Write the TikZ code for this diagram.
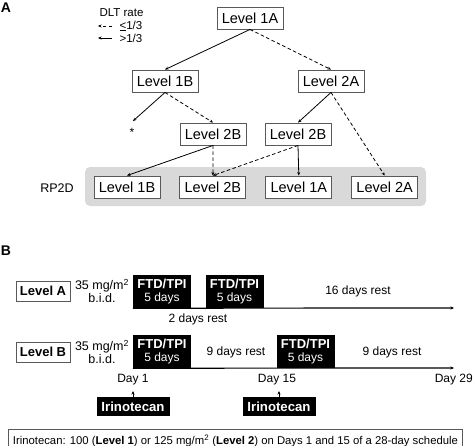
\documentclass[tikz,border=0pt]{standalone}
\usepackage{fontspec}
\setmainfont{Liberation Sans}
\usetikzlibrary{arrows.meta,positioning}

\tikzset{
  lvl/.style = {draw=black!65, line width=0.9pt, fill=white, inner sep=0pt,
                minimum width=66pt, minimum height=22pt, font=\fontsize{14.5}{16}\selectfont},
  tip/.style = {-{Stealth[length=3.5pt,width=3pt]}, line width=0.8pt},
  sure/.style = {tip},
  maybe/.style = {tip, dashed, dash pattern=on 3.5pt off 2.5pt},
  drug/.style = {fill=black, text=white, inner sep=0pt, minimum width=58pt,
                 minimum height=33pt, align=center},
  dose/.style = {align=center, font=\fontsize{12.5}{13.5}\selectfont},
  rest/.style = {font=\fontsize{12}{13}\selectfont},
  armbox/.style = {draw=black!65, line width=0.9pt, inner sep=0pt, minimum width=54pt,
                   minimum height=20pt, font=\bfseries\fontsize{13}{14}\selectfont},
  irino/.style = {fill=black, text=white, inner sep=0pt, minimum width=73pt,
                  minimum height=19pt, font=\bfseries\fontsize{13.2}{14}\selectfont},
  line/.style = {line width=1.2pt, -{Stealth[length=3.5pt,width=3pt]}}
}

\begin{document}
\begin{tikzpicture}[x=1pt, y=-1pt]
    \useasboundingbox (0,0) rectangle (474,445);

    % panel A
    \node[font=\bfseries\fontsize{14}{14}\selectfont] (labA) at (6,8) {A};

    \node[font=\fontsize{11.5}{12}\selectfont, anchor=west] (dlt) at (96,13) {DLT rate};
    \coordinate (k1) at (98,26);
    \coordinate (k2) at (112,26);
    \coordinate (k3) at (98,38);
    \coordinate (k4) at (112,38);
    \draw[maybe] (k2) -- (k1);
    \draw[sure] (k4) -- (k3);
    \node[font=\fontsize{11.5}{12}\selectfont, anchor=west] (le) at (116,26) {\underline{<}1/3};
    \node[font=\fontsize{11.5}{12}\selectfont, anchor=west] (gt) at (116,38) {>1/3};

    \node[lvl] (1A) at (250,18) {Level 1A};
    \node[lvl] (1B) at (165,81) {Level 1B};
    \node[lvl] (2A) at (331,81) {Level 2A};
    \node[lvl] (2Bl) at (213,134) {Level 2B};
    \node[lvl] (2Br) at (298,134) {Level 2B};
    \coordinate (stop) at (133,121);
    \node[font=\fontsize{12}{12}\selectfont] (star) at (132,132) {*};

    \fill[black!15, rounded corners=5pt] (85,167) rectangle (426,206);
    \node[font=\fontsize{12.5}{14}\selectfont] (rp2d) at (57,188) {RP2D};
    \node[lvl] (r1B) at (127,187) {Level 1B};
    \node[lvl] (r2B) [right=19pt of r1B] {Level 2B};
    \node[lvl] (r1A) [right=19pt of r2B] {Level 1A};
    \node[lvl] (r2A) [right=19pt of r1A] {Level 2A};

    \path
    (1A.south) edge[sure] (1B.north)
    (1A.south) edge[maybe] (2A.north)
    (1B.south) edge[sure] (stop)
    (1B.south) edge[maybe] (2Bl.north)
    (2A.south) edge[sure] (2Br.north)
    (2A.south) edge[maybe] (r2A.north)
    (2Bl.south) edge[sure] (r1B.north)
    (2Bl.south) edge[maybe] (r2B.north)
    (2Br.south) edge[maybe] (r2B.north)
    (2Br.south) edge[sure] (r1A.north)
    ;

    % panel B
    \node[font=\bfseries\fontsize{14}{14}\selectfont] (labB) at (6,251) {B};

    \node[armbox] (armA) at (43,291) {Level A};
    \node[dose] (doseA) at (102,291) {35 mg/m\textsuperscript{2}\\b.i.d.};
    \node[drug] (a1) at (162,291.5) {{\bfseries\fontsize{13}{14}\selectfont FTD/TPI}\\[1pt]{\fontsize{12}{13}\selectfont 5 days}};
    \node[drug] (a2) at (234.5,291.5) {{\bfseries\fontsize{13}{14}\selectfont FTD/TPI}\\[1pt]{\fontsize{12}{13}\selectfont 5 days}};
    \coordinate (endA) at (454,308);
    \draw[line] (a1.south west) -- (endA);
    \node[rest] (rA1) at (198,319) {2 days rest};
    \node[rest] (rA2) at (358,291) {16 days rest};

    \node[armbox] (armB) at (43,352) {Level B};
    \node[dose] (doseB) at (102,352) {35 mg/m\textsuperscript{2}\\b.i.d.};
    \node[drug] (b1) at (162,351.5) {{\bfseries\fontsize{13}{14}\selectfont FTD/TPI}\\[1pt]{\fontsize{12}{13}\selectfont 5 days}};
    \node[drug] (b2) at (305.5,351.5) {{\bfseries\fontsize{13}{14}\selectfont FTD/TPI}\\[1pt]{\fontsize{12}{13}\selectfont 5 days}};
    \coordinate (endB) at (454,368);
    \draw[line] (b1.south west) -- (endB);
    \node[rest] (rB1) at (236,352) {9 days rest};
    \node[rest] (rB2) at (392,352) {9 days rest};

    \node[rest] (d1) at (133,380) {Day 1};
    \node[rest] (d15) at (277,380) {Day 15};
    \node[rest, anchor=east, inner xsep=1pt] (d29) at (474,380) {Day 29};

    \node[irino] (ir1) at (133,406.5) {Irinotecan};
    \node[irino] (ir2) at (279,406.5) {Irinotecan};
    \coordinate (up1) at (133,391);
    \coordinate (up2) at (279,391);
    \draw[line, line width=1pt] (ir1.north) -- (up1);
    \draw[line, line width=1pt] (ir2.north) -- (up2);

    \node[draw=black!65, line width=0.9pt, anchor=north west, inner sep=0pt,
          minimum width=454pt, minimum height=22pt, font=\fontsize{11.3}{12}\selectfont] (note) at (8,429)
      {Irinotecan: 100 (\textbf{Level 1}) or 125 mg/m\textsuperscript{2} (\textbf{Level 2}) on Days 1 and 15 of a 28-day schedule};
\end{tikzpicture}
\end{document}
